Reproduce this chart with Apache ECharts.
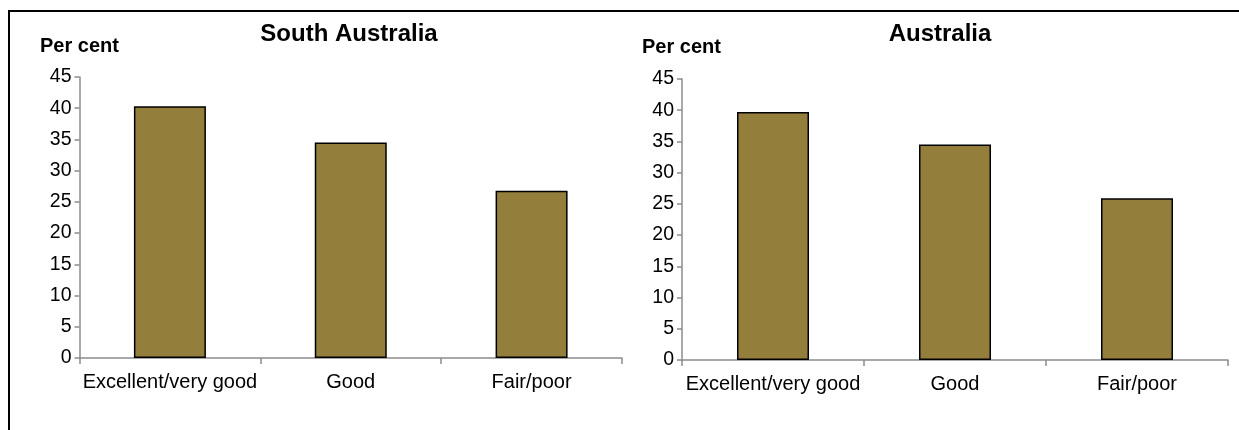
<!DOCTYPE html>
<html>
<head>
<meta charset="utf-8">
<script src="https://cdn.jsdelivr.net/npm/echarts@6/dist/echarts.min.js"></script>
<style>
html,body{margin:0;padding:0;background:#fff;}
#chart{width:1239px;height:430px;}
</style>
</head>
<body>
<div id="chart"></div>
<script>
const categories = ['Excellent/very good', 'Good', 'Fair/poor'];
const southAustralia = [40.3, 34.5, 26.8];
const australia = [39.7, 34.5, 25.9];
const panelTitles = ['South Australia', 'Australia'];
const yAxisName = 'Per cent';
const yMin = 0, yMax = 45, yStep = 5;

const FONT = '"Liberation Sans", Arial, sans-serif';
const BAR = '#937E3C';
const AXIS = '#8C8C8C';

function xAxisFor(i) {
  return {
    type: 'category', gridIndex: i, data: categories,
    boundaryGap: true,
    axisLine: {show: true, lineStyle: {color: AXIS, width: 1.5}},
    axisTick: {show: true, alignWithLabel: false, length: 6, lineStyle: {color: AXIS, width: 1.5}},
    axisLabel: {color: '#000', fontSize: 20, fontFamily: FONT, margin: 14, interval: 0}
  };
}
function yAxisFor(i) {
  return {
    type: 'value', gridIndex: i, min: yMin, max: yMax, interval: yStep,
    axisLine: {show: true, lineStyle: {color: AXIS, width: 1.5}},
    axisTick: {show: true, length: 5, lineStyle: {color: AXIS, width: 1.5}},
    splitLine: {show: false},
    axisLabel: {color: '#000', fontSize: 19.5, fontFamily: FONT, margin: 8}
  };
}
function barSeries(i, data) {
  return {
    type: 'bar', xAxisIndex: i, yAxisIndex: i, data: data,
    barWidth: 72,
    itemStyle: {color: BAR, borderColor: '#000', borderWidth: 1.5},
    silent: true
  };
}

const chart = echarts.init(document.getElementById('chart'), null, {renderer: 'canvas'});
chart.setOption({
  animation: false,
  backgroundColor: '#fff',
  title: [
    {text: panelTitles[0], left: 344, top: 17, textAlign: 'center',
     textStyle: {fontSize: 24, fontWeight: 'bold', color: '#000', fontFamily: FONT}},
    {text: panelTitles[1], left: 935, top: 17, textAlign: 'center',
     textStyle: {fontSize: 24, fontWeight: 'bold', color: '#000', fontFamily: FONT}},
    {text: yAxisName, left: 35, top: 31,
     textStyle: {fontSize: 20, fontWeight: 'bold', color: '#000', fontFamily: FONT}},
    {text: yAxisName, left: 637, top: 32,
     textStyle: {fontSize: 20, fontWeight: 'bold', color: '#000', fontFamily: FONT}}
  ],
  grid: [
    {left: 79.5, top: 77, width: 542.5, height: 281, containLabel: false},
    {left: 682, top: 79, width: 546, height: 281, containLabel: false}
  ],
  xAxis: [xAxisFor(0), xAxisFor(1)],
  yAxis: [yAxisFor(0), yAxisFor(1)],
  series: [barSeries(0, southAustralia), barSeries(1, australia)],
  graphic: [
    {type: 'rect', shape: {x: 9, y: 11, width: 1400, height: 600},
     style: {fill: 'none', stroke: '#000', lineWidth: 2}, silent: true, z: 100}
  ]
});
</script>
</body>
</html>
